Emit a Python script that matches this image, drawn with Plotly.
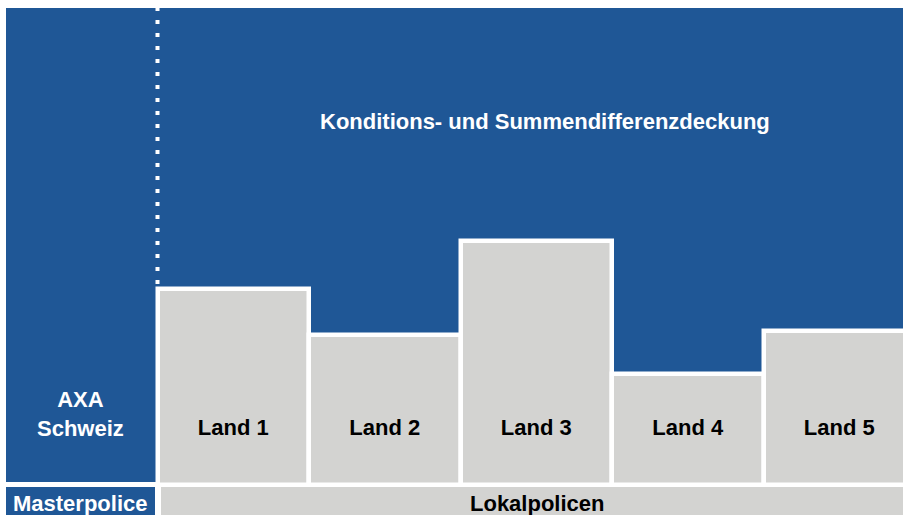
import plotly.graph_objects as go

# ---- data ----
categories = ["Land 1", "Land 2", "Land 3", "Land 4", "Land 5"]
positions = [0, 1, 2, 3, 4]
heights = [196, 149.5, 243.5, 111, 153.5]
label_level = [55, 55, 55, 55, 55]
top_label = "Konditions- und Summendifferenzdeckung"
left_label = "AXA<br>Schweiz"
bottom_left = "Masterpolice"
bottom_right = "Lokalpolicen"

BLUE = "#1F5796"
GREY = "#D3D3D1"
W, H = 903, 515
FONT = "Liberation Sans"


def px(x):
    return x / W


def py(y):
    return 1 - y / H


fig = go.Figure()

fig.add_trace(go.Bar(
    x=positions, y=heights, base=0, width=1,
    marker=dict(color=GREY, line=dict(color="white", width=4.5)),
    hoverinfo="skip", showlegend=False,
))

fig.add_trace(go.Scatter(
    x=positions, y=label_level, mode="text", text=categories,
    textposition="middle center",
    textfont=dict(family=FONT, size=22, color="black", weight="bold"),
    hoverinfo="skip", showlegend=False,
))

shapes = [
    # blue background area
    dict(type="rect", xref="paper", yref="paper", x0=px(6), x1=px(903), y0=py(482), y1=py(8),
         fillcolor=BLUE, line=dict(width=0), layer="below"),
    # bottom strip boxes
    dict(type="rect", xref="paper", yref="paper", x0=px(6), x1=px(155), y0=py(515), y1=py(487),
         fillcolor=BLUE, line=dict(width=0), layer="below"),
    dict(type="rect", xref="paper", yref="paper", x0=px(161), x1=px(903), y0=py(515), y1=py(487),
         fillcolor=GREY, line=dict(width=0), layer="below"),
    # dotted separator
    dict(type="line", xref="x", yref="paper", x0=-0.5, x1=-0.5, y0=py(284), y1=py(8),
         line=dict(color="white", width=4, dash="4px,9px"), layer="above"),
]

annotations = [
    dict(text=top_label, xref="paper", yref="paper", x=px(545), y=py(122),
         showarrow=False, xanchor="center", yanchor="middle",
         font=dict(family=FONT, size=22, color="white", weight="bold")),
    dict(text=left_label, xref="paper", yref="paper", x=px(80.5), y=py(413.5),
         showarrow=False, xanchor="center", yanchor="middle",
         font=dict(family=FONT, size=22, color="white", weight="bold")),
    dict(text=bottom_left, xref="paper", yref="paper", x=px(80.5), y=py(503),
         showarrow=False, xanchor="center", yanchor="middle",
         font=dict(family=FONT, size=22, color="white", weight="bold")),
    dict(text=bottom_right, xref="paper", yref="paper", x=px(537), y=py(503),
         showarrow=False, xanchor="center", yanchor="middle",
         font=dict(family=FONT, size=22, color="black", weight="bold")),
]

fig.update_layout(
    width=W, height=H,
    margin=dict(l=0, r=0, t=0, b=0),
    paper_bgcolor="white", plot_bgcolor="rgba(0,0,0,0)",
    xaxis=dict(range=[-1.5396, 4.4208], visible=False, fixedrange=True),
    yaxis=dict(range=[-30.5, 484.5], visible=False, fixedrange=True),
    shapes=shapes, annotations=annotations,
    bargap=0,
)

fig.write_html(
    "out.html",
    config={"displayModeBar": False},
    post_script="document.body.style.margin='0';document.body.style.overflow='hidden';",
)
